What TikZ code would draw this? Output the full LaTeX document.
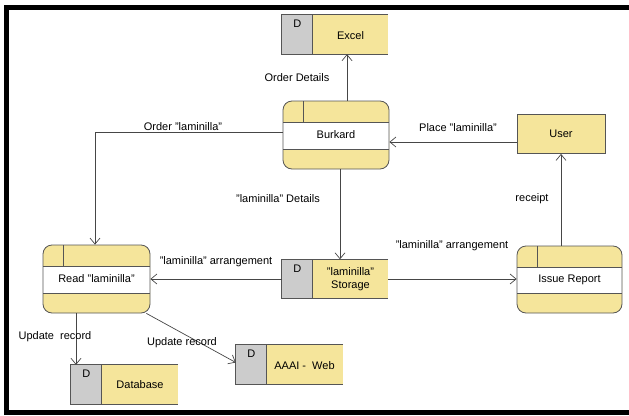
\documentclass[tikz,border=0pt]{standalone}
\usepackage{fontspec}
\setmainfont{Liberation Sans}
\usetikzlibrary{arrows.meta}
\definecolor{yel}{RGB}{245,229,155}
\definecolor{gr}{RGB}{204,204,204}
\definecolor{bd}{RGB}{85,85,85}
\definecolor{ln}{RGB}{70,70,70}
\begin{document}
\begin{tikzpicture}[x=1pt,y=-1pt,
  font=\fontsize{11}{13}\selectfont,
  proc/.style={draw=bd, line width=0.8pt, fill=yel, rounded corners=9pt,
    minimum width=#1, minimum height=68pt, inner sep=0pt,
    path picture={
      \fill[white,sharp corners] ([yshift=-21pt]path picture bounding box.north west) rectangle ([yshift=20pt]path picture bounding box.south east);
      \draw[bd,line width=0.8pt,sharp corners]
        ([yshift=-21pt]path picture bounding box.north west) -- ([yshift=-21pt]path picture bounding box.north east)
        ([yshift=20pt]path picture bounding box.south west) -- ([yshift=20pt]path picture bounding box.south east)
        ([xshift=20pt]path picture bounding box.north west) -- ([xshift=20pt,yshift=-21pt]path picture bounding box.north west);
    }},
  store/.style={fill=yel, minimum width=#1, minimum height=39pt, inner sep=0pt,
    path picture={\fill[gr] (path picture bounding box.north west) rectangle ([xshift=31pt]path picture bounding box.south west);}},
  ent/.style={draw=bd, line width=0.8pt, fill=yel, minimum width=88pt, minimum height=39pt, inner sep=0pt},
  sline/.style={draw=bd, line width=0.8pt},
  conn/.style={draw=ln, line width=0.7pt, -{Straight Barb[length=6pt,width=10pt,line width=0.7pt]}},
  lbl/.style={inner sep=1pt}
]
\useasboundingbox (0,0) rectangle (629,415);
% frame
\fill[black] (4,5) rectangle (629,10);
\fill[black] (4,5) rectangle (9,415);
\fill[black] (4,410) rectangle (629,415);

% processes
\node[proc=106pt] (burkard) at (336,135) {Burkard};
\node[proc=107pt] (read) at (96.5,279) {Read "laminilla"};
\node[proc=105pt, minimum height=67pt] (issue) at (569.5,279.5) {Issue Report};
% external entity
\node[ent] (user) at (561,134) {User};

% data stores
\node[store=106pt] (excel) at (335,34.5) {};
\node[store=106pt] (storage) at (335,279) {};
\node[store=107pt] (database) at (124.5,384.5) {};
\node[store=107pt] (aaai) at (289.5,364.5) {};
\foreach \n in {excel,storage,database,aaai}{
  \draw[sline] (\n.north east) -- (\n.north west) -- (\n.south west) -- (\n.south east)
    ([xshift=31pt]\n.north west) -- ([xshift=31pt]\n.south west);
  \node (\n-d) at ([xshift=15.5pt,yshift=-9pt]\n.north west) {D};
}
\node (excel-t) at (350.5,36) {Excel};
\node[align=center, font=\fontsize{11}{12.5}\selectfont] (storage-t) at (350.5,279) {"laminilla"\\Storage};
\node (database-t) at (140,385) {Database};
\node (aaai-t) at (304.5,366) {AAAI -\ \ Web};

% connectors
\draw[conn] ([xshift=11pt]burkard.north) -- ([xshift=11pt]burkard.north |- excel.south);
\draw[conn] ([yshift=-8pt]user.west) -- ([yshift=-8pt]user.west -| burkard.east);
\draw[conn] ([yshift=3pt]burkard.west) -| ([xshift=-1.5pt]read.north);
\draw[conn] ([xshift=4pt]burkard.south) -- ([xshift=4pt]burkard.south |- storage.north);
\draw[conn] (storage.west) -- (storage.west -| read.east);
\draw[conn] (storage.east) -- (storage.east -| issue.west);
\draw[conn] ([xshift=-8.5pt]issue.north) -- ([xshift=-8.5pt]issue.north |- user.south);
\draw[conn] ([xshift=-20.5pt]read.south) -- ([xshift=-20.5pt]read.south |- database.north);
\draw[conn] ([xshift=-4pt]read.south east) -- ([yshift=2pt]aaai.west);

% labels
\node[lbl] (l1) at (297,78) {Order Details};
\node[lbl] (l2) at (458,128) {Place "laminilla"};
\node[lbl] (l3) at (183,127) {Order "laminilla"};
\node[lbl] (l4) at (278,199) {"laminilla" Details};
\node[lbl] (l5) at (216,262) {"laminilla" arrangement};
\node[lbl] (l6) at (452,246) {"laminilla" arrangement};
\node[lbl] (l7) at (532,199) {receipt};
\node[lbl] (l8) at (55,337) {Update\ \ record};
\node[lbl] (l9) at (182,343) {Update record};
\end{tikzpicture}
\end{document}
